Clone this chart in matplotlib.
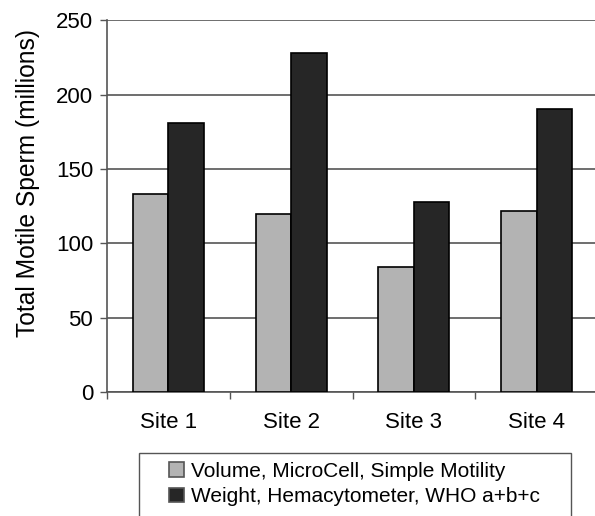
import matplotlib
matplotlib.use("Agg")
import matplotlib.pyplot as plt
import matplotlib.patches as mpatches
import numpy as np

sites = ["Site 1", "Site 2", "Site 3", "Site 4"]
volume_microcell = [133, 120, 84, 122]
weight_hemacytometer = [181, 228, 128, 190]
series_labels = ["Volume, MicroCell, Simple Motility",
                 "Weight, Hemacytometer, WHO a+b+c"]

plt.rcParams['font.family'] = ['Liberation Sans', 'DejaVu Sans']

fig = plt.figure(figsize=(5.95, 5.16), dpi=100)
ax = fig.add_axes([0.18, 0.24, 0.825, 0.721])

x = np.arange(len(sites))
w = 0.29
ax.bar(x - w / 2, volume_microcell, w, color='#b3b3b3', edgecolor='black',
       linewidth=1.2, label=series_labels[0], zorder=3)
ax.bar(x + w / 2, weight_hemacytometer, w, color='#262626', edgecolor='black',
       linewidth=1.2, label=series_labels[1], zorder=3)

ax.set_xlim(-0.5, len(sites) - 0.5)
ax.set_ylim(0, 250)
ax.set_yticks(np.arange(0, 251, 50))
ax.yaxis.grid(True, color='#555555', linewidth=1.2, zorder=0)
ax.set_axisbelow(True)

ax.set_xticks(x)
ax.set_xticklabels(sites, fontsize=16)
ax.set_xticks(np.arange(-0.5, len(sites), 1), minor=True)
ax.tick_params(axis='x', which='major', length=0, pad=14)
ax.tick_params(axis='x', which='minor', length=5, width=1, color='#555555')
ax.tick_params(axis='y', length=5, width=1, labelsize=16, pad=5,
               color='#555555')

ax.spines['top'].set_visible(False)
ax.spines['right'].set_visible(False)
ax.spines['left'].set_color('#555555')
ax.spines['bottom'].set_color('#555555')
ax.spines['left'].set_linewidth(1.2)
ax.spines['bottom'].set_linewidth(1.2)

ax.set_ylabel("Total Motile Sperm (millions)", fontsize=17.7)
ax.yaxis.set_label_coords(-0.136, 0.562)

# legend box runs off the bottom of the figure, as in the original
leg = fig.legend(loc='upper left', bbox_to_anchor=(169 / 595, 1 - 462 / 516),
                 borderaxespad=0, borderpad=0, frameon=False,
                 fontsize=15, handlelength=0.7, handleheight=0.7,
                 handletextpad=0.35, labelspacing=0.3)
for h in leg.legend_handles:
    h.set_edgecolor('#555555')

frame = mpatches.Rectangle((139 / 595, -0.05), (571 - 139) / 595,
                           (516 - 453) / 516 + 0.05, transform=fig.transFigure,
                           fill=False, edgecolor='#555555', linewidth=1.0)
fig.patches.append(frame)

fig.savefig("out.png", dpi=100)
